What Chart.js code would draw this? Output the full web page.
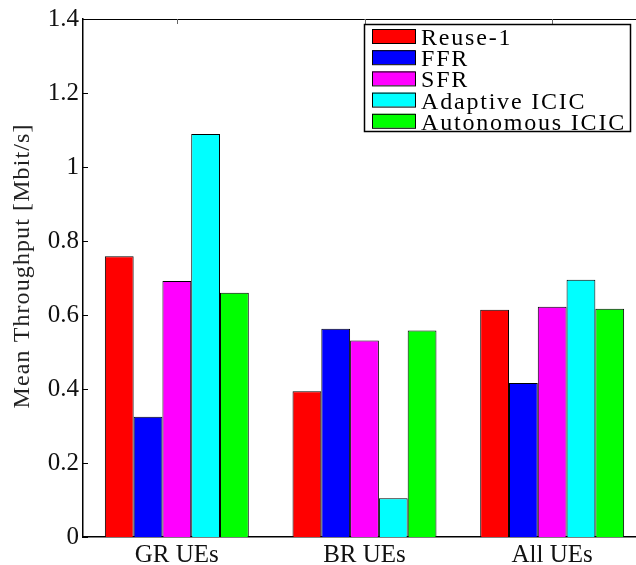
<!DOCTYPE html>
<html>
<head>
<meta charset="utf-8">
<script src="https://cdn.jsdelivr.net/npm/chart.js@4/dist/chart.umd.min.js"></script>
<style>
  html, body { margin: 0; padding: 0; background: #fff; overflow: hidden; }
  #wrap { width: 700px; height: 565px; }
</style>
</head>
<body>
<div id="wrap"><canvas id="chart" width="700" height="565"></canvas></div>
<script>
// Data
const categories = ['GR UEs', 'BR UEs', 'All UEs'];
const schemes = ['Reuse-1', 'FFR', 'SFR', 'Adaptive ICIC', 'Autonomous ICIC'];
const colors = ['#ff0000', '#0000ff', '#ff00ff', '#00ffff', '#00ff00'];
const reuse1 = [0.759, 0.394, 0.614];
const ffr = [0.325, 0.563, 0.416];
const sfr = [0.692, 0.531, 0.622];
const adaptiveIcic = [1.089, 0.105, 0.695];
const autonomousIcic = [0.660, 0.558, 0.617];
const yTicks = [0, 0.2, 0.4, 0.6, 0.8, 1, 1.2, 1.4];
const yTitle = 'Mean Throughput [Mbit/s]';

const series = [reuse1, ffr, sfr, adaptiveIcic, autonomousIcic];
const SERIF = '"Liberation Serif", "Times New Roman", serif';

// Inner tick marks, top border, y-axis title and the boxed legend (MATLAB style)
const matlabPlugin = {
    id: 'matlab',
    afterDraw(chart) {
        const ctx = chart.ctx;
        const area = chart.chartArea;
        const y = chart.scales.y;
        const x = chart.scales.x;

        ctx.save();
        ctx.strokeStyle = '#000';
        ctx.lineWidth = 1;

        // top border
        ctx.beginPath();
        ctx.moveTo(area.left, area.top + 0.5);
        ctx.lineTo(area.right, area.top + 0.5);
        ctx.stroke();

        // inner y ticks
        yTicks.forEach(v => {
            const py = Math.round(y.getPixelForValue(v)) + 0.5;
            ctx.beginPath();
            ctx.moveTo(area.left, py);
            ctx.lineTo(area.left + 5, py);
            ctx.stroke();
        });

        // inner x ticks on top edge
        ctx.strokeStyle = '#666';
        categories.forEach((c, i) => {
            const px = Math.round(x.getPixelForValue(i)) + 0.5;
            ctx.beginPath();
            ctx.moveTo(px, area.top);
            ctx.lineTo(px, area.top + 5);
            ctx.stroke();
        });

        // y title
        ctx.letterSpacing = '1.1px';
        ctx.font = '24px ' + SERIF;
        ctx.fillStyle = '#222';
        ctx.textAlign = 'center';
        ctx.textBaseline = 'middle';
        ctx.translate(23, 266);
        ctx.rotate(-Math.PI / 2);
        ctx.fillText(yTitle, 0, 0);
        ctx.setTransform(1, 0, 0, 1, 0, 0);

        // legend
        const lx = 364, ly = 24, lw = 266, lh = 107;
        ctx.fillStyle = '#fff';
        ctx.fillRect(lx, ly, lw, lh);
        ctx.strokeStyle = '#000';
        ctx.lineWidth = 1.5;
        ctx.strokeRect(lx + 0.5, ly + 0.5, lw, lh);

        ctx.letterSpacing = '1.8px';
        ctx.font = '24px ' + SERIF;
        ctx.textAlign = 'left';
        ctx.textBaseline = 'alphabetic';
        ctx.lineWidth = 1;
        chart.data.datasets.forEach((ds, i) => {
            const ry = ly + 5 + i * 21.2;
            ctx.fillStyle = ds.backgroundColor;
            ctx.fillRect(372, ry, 43, 14);
            ctx.strokeStyle = '#000';
            ctx.strokeRect(372.5, ry + 0.5, 43, 14);
            ctx.fillStyle = '#000';
            ctx.fillText(ds.label, 421, ry + 16);
        });
        ctx.restore();
    }
};

new Chart(document.getElementById('chart'), {
    type: 'bar',
    data: {
        labels: categories,
        datasets: series.map((vals, i) => ({
            label: schemes[i],
            data: vals,
            backgroundColor: colors[i],
            borderColor: '#000',
            borderWidth: 1,
            barPercentage: 1,
            categoryPercentage: 0.767
        }))
    },
    options: {
        responsive: false,
        animation: false,
        layout: { padding: { left: 0, top: 16, right: 54, bottom: 0 } },
        plugins: {
            legend: { display: false },
            tooltip: { enabled: false }
        },
        scales: {
            x: {
                grid: { display: false, drawTicks: false, tickLength: 0 },
                border: { display: true, color: '#000', width: 1.5 },
                ticks: {
                    color: '#111',
                    font: { family: SERIF, size: 25 },
                    padding: 3
                },
                afterFit(scale) { scale.height = 28; }
            },
            y: {
                min: 0,
                max: 1.4,
                grid: { display: false, drawTicks: false },
                border: { display: true, color: '#000', width: 1.5 },
                afterBuildTicks(scale) { scale.ticks = yTicks.map(v => ({ value: v })); },
                ticks: {
                    color: '#111',
                    font: { family: SERIF, size: 25 },
                    padding: 4,
                    callback: v => String(v)
                },
                afterFit(scale) { scale.width = 83; }
            }
        }
    },
    plugins: [matlabPlugin]
});
</script>
</body>
</html>
